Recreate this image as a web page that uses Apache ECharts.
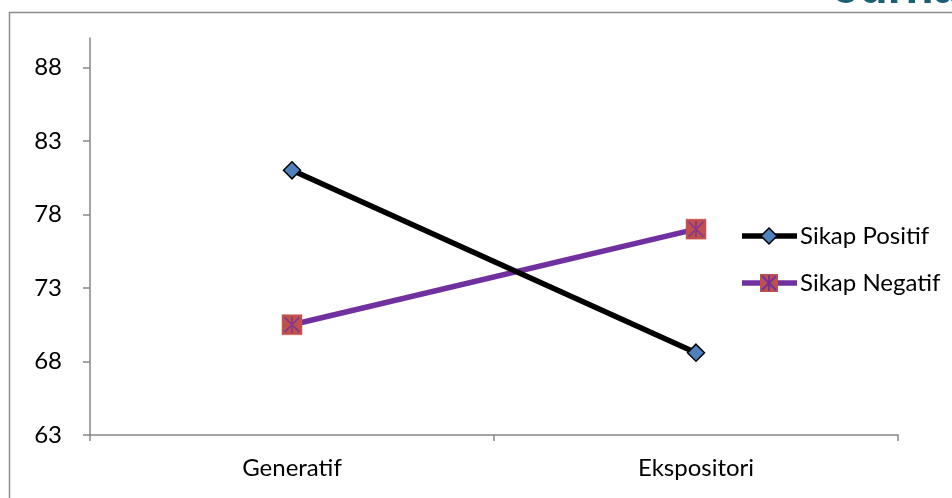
<!DOCTYPE html>
<html>
<head>
<meta charset="utf-8">
<script src="https://cdn.jsdelivr.net/npm/echarts@6/dist/echarts.min.js"></script>
<style>
html,body{margin:0;padding:0;background:#fff;}
#chart{width:952px;height:498px;}
</style>
</head>
<body>
<div id="chart"></div>
<script>
var categories = ['Generatif', 'Ekspositori'];
var sikapPositif = [81.0, 68.6];
var sikapNegatif = [70.5, 77.0];
var yTicks = [63, 68, 73, 78, 83, 88];
var seriesNames = ['Sikap Positif', 'Sikap Negatif'];

var FONT = 'Lato';
var FS = 24;
var asterisk = 'path://M9,0 L11,0 L11,20 L9,20 Z M0,1.4 L1.4,0 L20,18.6 L18.6,20 Z M20,1.4 L18.6,0 L0,18.6 L1.4,20 Z';

var chart = echarts.init(document.getElementById('chart'), null, {renderer: 'canvas'});

var legendX = 742, legendY1 = 236, legendY2 = 283;

var option = {
  backgroundColor: '#ffffff',
  animation: false,
  grid: {left: 90, right: 54, top: 38, bottom: 63, containLabel: false},
  xAxis: {
    type: 'category',
    data: categories,
    boundaryGap: true,
    axisLine: {lineStyle: {color: '#868686', width: 1.5}},
    axisTick: {show: true, length: 6, lineStyle: {color: '#868686', width: 1.5}},
    axisLabel: {color: '#000', fontFamily: FONT, fontSize: FS, margin: 21},
    splitLine: {show: false}
  },
  yAxis: {
    type: 'value',
    min: 63,
    max: 90,
    interval: 5,
    axisLine: {show: true, lineStyle: {color: '#868686', width: 1.5}},
    axisTick: {show: true, length: 7, customValues: yTicks, lineStyle: {color: '#868686', width: 1.5}},
    axisLabel: {color: '#000', fontFamily: FONT, fontSize: FS, margin: 28, customValues: yTicks},
    splitLine: {show: false}
  },
  series: [
    {
      name: seriesNames[0],
      type: 'line',
      data: sikapPositif,
      symbol: 'diamond',
      symbolSize: 17,
      lineStyle: {color: '#000000', width: 5.5},
      itemStyle: {color: '#4f81bd', borderColor: '#000000', borderWidth: 1.5},
      z: 3
    },
    {
      name: seriesNames[1],
      type: 'line',
      data: sikapNegatif,
      symbol: 'rect',
      symbolSize: 20,
      lineStyle: {color: '#7030a0', width: 5.5},
      itemStyle: {color: '#c0504d', borderColor: '#c85a56', borderWidth: 0.5},
      z: 2
    },
    {
      name: seriesNames[1] + ' marker',
      type: 'scatter',
      data: sikapNegatif,
      symbol: asterisk,
      symbolSize: 16,
      silent: true,
      itemStyle: {color: '#7030a0'},
      z: 4
    }
  ],
  graphic: [
    {
      type: 'rect',
      shape: {x: 9.5, y: 12.5, width: 960, height: 500},
      style: {fill: 'none', stroke: '#8c8c8c', lineWidth: 1.5},
      silent: true, z: -1
    },
    {
      type: 'text',
      x: 834, y: 13,
      style: {text: 'Jurnal', fill: '#1b5e75', font: 'bold 46px "Liberation Sans"', verticalAlign: 'bottom'}
    },
    {
      type: 'group',
      children: [
        {type: 'line', shape: {x1: legendX, y1: legendY1, x2: legendX + 55, y2: legendY1}, style: {stroke: '#000', lineWidth: 5.5}},
        {type: 'polygon', shape: {points: [[legendX + 27, legendY1 - 8], [legendX + 35, legendY1], [legendX + 27, legendY1 + 8], [legendX + 19, legendY1]]}, style: {fill: '#4f81bd', stroke: '#000', lineWidth: 1.5}},
        {type: 'text', x: legendX + 58, y: legendY1, style: {text: seriesNames[0], fill: '#000', font: FS + 'px ' + FONT, textVerticalAlign: 'middle'}},
        {type: 'line', shape: {x1: legendX, y1: legendY2, x2: legendX + 55, y2: legendY2}, style: {stroke: '#7030a0', lineWidth: 5.5}},
        {type: 'rect', shape: {x: legendX + 18, y: legendY2 - 9, width: 18, height: 18}, style: {fill: '#c0504d'}},
        {type: 'line', shape: {x1: legendX + 27, y1: legendY2 - 8, x2: legendX + 27, y2: legendY2 + 8}, style: {stroke: '#7030a0', lineWidth: 1.8}},
        {type: 'line', shape: {x1: legendX + 20, y1: legendY2 - 7, x2: legendX + 34, y2: legendY2 + 7}, style: {stroke: '#7030a0', lineWidth: 1.8}},
        {type: 'line', shape: {x1: legendX + 34, y1: legendY2 - 7, x2: legendX + 20, y2: legendY2 + 7}, style: {stroke: '#7030a0', lineWidth: 1.8}},
        {type: 'text', x: legendX + 58, y: legendY2, style: {text: seriesNames[1], fill: '#000', font: FS + 'px ' + FONT, textVerticalAlign: 'middle'}}
      ]
    }
  ]
};
chart.setOption(option);
</script>
</body>
</html>
